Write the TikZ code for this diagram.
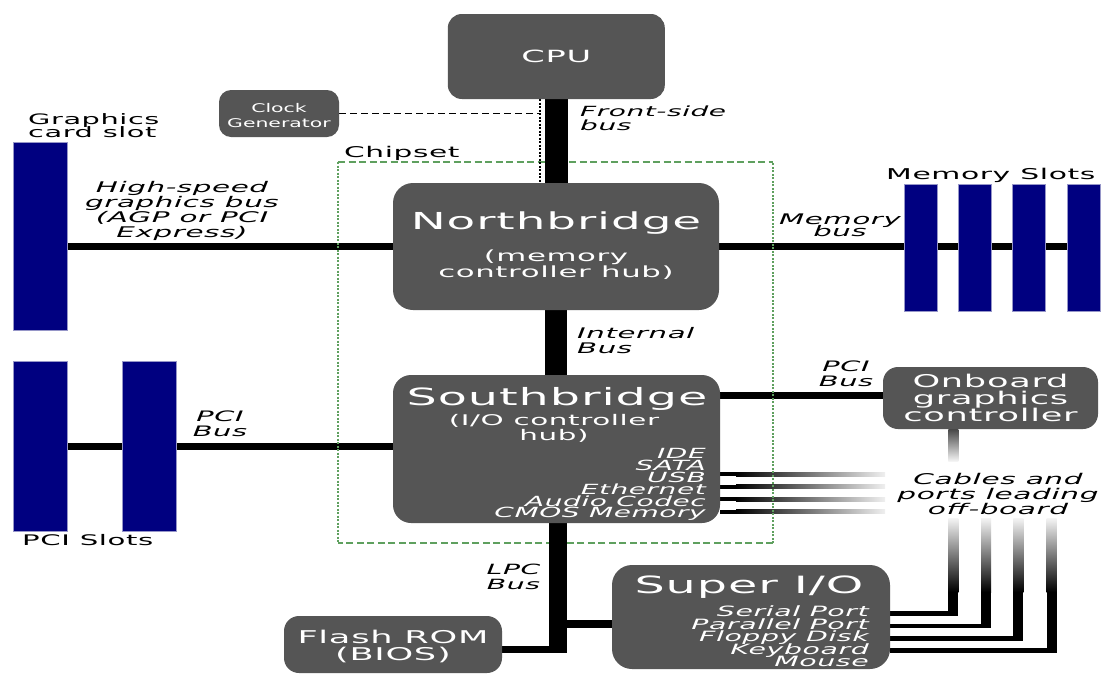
\documentclass[tikz,border=0pt]{standalone}
\usepackage{fontspec}
\setmainfont{DejaVu Sans}[FakeStretch=2.0,LetterSpace=4]
\newfontfamily\clockfont{DejaVu Sans}[FakeStretch=1.7]
\usetikzlibrary{backgrounds}
\definecolor{chipgray}{RGB}{85,85,85}
\definecolor{slotblue}{RGB}{0,0,128}
\definecolor{slotedge}{RGB}{150,150,200}
\definecolor{chipgreen}{RGB}{95,160,95}
\newcommand\looselines{\lineskiplimit=-50pt\relax}
\tikzset{
  chip/.style={fill=chipgray, draw=none, inner sep=0pt, text=white, rounded corners=#1},
  chip/.default=18pt,
  slot/.style={fill=slotblue, draw=slotedge, line width=0.6pt, inner sep=0pt},
  lbl/.style 2 args={inner sep=0pt, font={\fontsize{#1}{#2}\selectfont\looselines}},
  ilbl/.style 2 args={inner sep=0pt, font={\fontsize{#1}{#2}\selectfont\itshape\looselines}},
  wlbl/.style 2 args={lbl={#1}{#2}, text=white},
  bus/.style={line width=7pt},
  clkdash/.style={line width=1.4pt, dash pattern=on 7pt off 4pt},
  clkdot/.style={line width=2pt, dash pattern=on 2pt off 1.5pt},
  chipframeh/.style={chipgreen, line width=1.3pt, dash pattern=on 7pt off 3.5pt},
  chipframev/.style={chipgreen, line width=1.3pt, dash pattern=on 2pt off 1.5pt},
}
\begin{document}
\begin{tikzpicture}[x=1pt, y=-1pt]
\useasboundingbox (0,0) rectangle (1101,675);

% ---- chips ----
\node[chip=14pt, minimum width=217pt, minimum height=85pt, font={\fontsize{16.8}{17}\selectfont}] (cpu) at (556.3,56.5) {CPU};
\node[chip=12pt, minimum width=120pt, minimum height=47pt] (clk) at (279,113.5) {};
\node[chip=20pt, minimum width=326pt, minimum height=127pt] (nb) at (556,246.5) {};
\node[chip=18pt, minimum width=327pt, minimum height=148pt] (sb) at (556.5,449) {};
\node[chip=20pt, minimum width=278pt, minimum height=104pt] (sio) at (751,617) {};
\node[chip=15pt, minimum width=218pt, minimum height=57pt] (rom) at (393,644.5) {};
\node[chip=15pt, minimum width=215pt, minimum height=62pt, align=center, font={\fontsize{17.6}{17}\selectfont\looselines}] (ogc) at (990.5,398) {Onboard\\graphics\\controller};

% ---- chip texts ----
\node[inner sep=0pt, text=white, align=center, font={\clockfont\fontsize{12}{15}\selectfont\looselines}] (clkT) at (279,115.8) {Clock\\Generator};
\node[wlbl={23.4}{24}, anchor=base] (nbT) at (556,229.5) {Northbridge};
\node[wlbl={15.4}{15.5}, align=center] (nbS) at (556,264.5) {(memory\\controller hub)};
\node[wlbl={23.8}{24}, anchor=base] (sbT) at (557,405) {Southbridge};
\node[wlbl={14.7}{15}, align=center] (sbS) at (554,428.2) {(I/O controller\\hub)};
\node[ilbl={14}{11.8}, text=white, align=right, anchor=east] (sbL) at (706,484.8) {IDE\\SATA\\USB\\Ethernet\\Audio Codec\\CMOS Memory};
\node[wlbl={23.8}{24}, anchor=base] (sioT) at (749,593.3) {Super I/O};
\node[ilbl={14.2}{12.5}, text=white, align=right, anchor=east] (sioL) at (869,636.5) {Serial Port\\Parallel Port\\Floppy Disk\\Keyboard\\Mouse};
\node[wlbl={17.6}{17}, align=center] (romT) at (393,646) {Flash ROM\\(BIOS)};

% ---- slots ----
\node[slot, minimum width=54pt, minimum height=188pt] (gslot) at (40,236) {};
\node[slot, minimum width=54pt, minimum height=170pt] (pci1) at (40,446) {};
\node[slot, minimum width=54pt, minimum height=170pt] (pci2) at (149,446) {};
\node[slot, minimum width=33pt, minimum height=127pt] (m1) at (920.5,247.5) {};
\node[slot, minimum width=33pt, minimum height=127pt] (m2) at (975,247.5) {};
\node[slot, minimum width=33pt, minimum height=127pt] (m3) at (1029,247.5) {};
\node[slot, minimum width=33pt, minimum height=127pt] (m4) at (1083.5,247.5) {};

% ---- labels ----
\node[lbl={14.8}{15}, anchor=base west] (chipsetlbl) at (344,157) {Chipset};
\node[ilbl={14}{14}, align=left, anchor=west] (fsb) at (580,118.5) {Front-side\\bus};
\node[lbl={14.4}{13.5}, align=left, anchor=west] (gcs) at (28,125.5) {Graphics\\card slot};
\node[ilbl={14.7}{15}, align=center] (hsg) at (182,211) {High-speed\\graphics bus\\(AGP or PCI\\Express)};
\node[ilbl={14.6}{12.5}, align=center] (mbus) at (840,225.3) {Memory\\bus};
\node[lbl={14.9}{15}, anchor=base west] (mslots) at (886,179.5) {Memory Slots};
\node[ilbl={14.6}{15}, align=left, anchor=west] (ibus) at (577,341) {Internal\\Bus};
\node[ilbl={14.4}{15}, align=center] (pcibR) at (846,374) {PCI\\Bus};
\node[ilbl={14.4}{15}, align=center] (pcibL) at (220,424) {PCI\\Bus};
\node[lbl={14.6}{15}, anchor=base west] (pcis) at (22,545.5) {PCI Slots};
\node[ilbl={14.1}{15}, align=center] (lpclbl) at (513.5,577) {LPC\\Bus};
\node[ilbl={14.8}{15}, align=center] (offb) at (998,493.8) {Cables and\\ports leading\\off-board};

% ---- helper points ----
\coordinate (chipNW) at (338,162);
\coordinate (chipSE) at (773,543);
\coordinate (clkdrop) at ([xshift=-16pt]nb.north);
\coordinate (lpcfoot) at (558,653.3);
\coordinate (cabsink) at (885,493);

\begin{pgfonlayer}{background}
  \fill[white] (0,0) rectangle (1101,675);
  % buses between chips and slots
  \draw[bus] (gslot.east |- nb.west) -- (nb.west);
  \draw[bus] (nb.east) -- (m4.center |- nb.east);
  \draw[bus] (pci1.east) -- (pci2.west);
  \draw[bus] (pci2.east) -- (pci2.east -| sb.west);
  \draw[bus] ([yshift=3pt]ogc.west) -- ([yshift=3pt]ogc.west -| sb.east);
  % southbridge cables fading off-board
  \foreach \y in {474.3,486.7,499,511.7}{
    \fill (sb.east |- 0,{\y-2}) rectangle (736,{\y+2});
    \shade[left color=black, right color=black!6] (736,{\y-2}) rectangle (cabsink |- 0,{\y+2});
  }
  % onboard graphics output
  \shade[top color=black!72, bottom color=black!4] ([xshift=-42.2pt]ogc.south) rectangle ([xshift=-32.2pt,yshift=-32pt]ogc.south);
  % super I/O cables
  \foreach \y/\x in {613.3/953.3,625.8/986,638.7/1018.3,650.3/1051.7}{
    \draw[line width=4.5pt] (sio.east |- 0,\y) -- ({\x+5},\y);
    \fill ({\x-5},{\y+2.25}) rectangle ({\x+5},592);
    \shade[top color=black!4, bottom color=black] ({\x-5},518) rectangle ({\x+5},592);
  }
  % chipset frame
  \draw[chipframeh] (chipNW) -- (chipNW -| chipSE) (chipSE) -- (chipSE -| chipNW);
  \draw[chipframev] (chipNW) -- (chipNW |- chipSE) (chipSE) -- (chipSE |- chipNW);
  % vertical buses
  \draw[line width=22.5pt] (cpu.south) -- (cpu.south |- nb.north);
  \draw[line width=21.5pt] (nb.south) -- (nb.south |- sb.north);
  \draw[line width=17.5pt] ([xshift=1.5pt]sb.south) -- (lpcfoot);
  \draw[bus] ([yshift=-5.2pt]rom.east) -- ([yshift=-5.2pt]rom.east -| lpcfoot);
  \draw[line width=8pt] ([yshift=-7pt]sio.west) -- ([yshift=-7pt]sio.west -| lpcfoot);
  % clock distribution
  \draw[clkdash] (clk.east) -- (clk.east -| clkdrop);
  \draw[clkdot] (clkdrop |- cpu.south) -- (clkdrop);
\end{pgfonlayer}
\end{tikzpicture}
\end{document}
